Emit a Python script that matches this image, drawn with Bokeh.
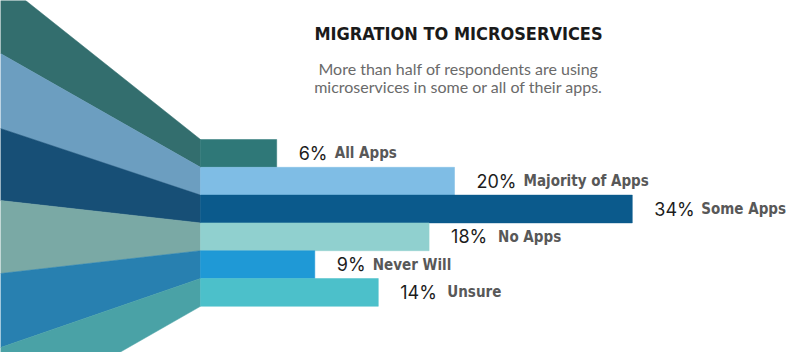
from bokeh.plotting import figure
from bokeh.models import Range1d, ColumnDataSource, Label
from bokeh.core.properties import value
from bokeh.embed import file_html
from bokeh.resources import INLINE

# ---- data ----
categories = ["All Apps", "Majority of Apps", "Some Apps", "No Apps", "Never Will", "Unsure"]
percents = [6, 20, 34, 18, 9, 14]
bar_colors = ["#2f7878", "#7fbde5", "#0b5a8c", "#90d0cf", "#1f99d6", "#4cc0ca"]
band_colors = ["#336e6e", "#6c9ec0", "#174f76", "#7aa9a5", "#2880b0", "#4aa2a6"]
title_text = "MIGRATION TO MICROSERVICES"
subtitle_lines = ["More than half of respondents are using",
                  "microservices in some or all of their apps."]

# ---- layout ----
W, H = 800, 352
PX = 12.7          # pixels per percent
ROW = 27.8         # pixels per bar row
BAR_LEFT = 200     # pixel x where bars start
BAR_TOP = 139      # pixel y of first bar's top
COND = "DejaVu Sans Condensed"

top_row = -0.5 - BAR_TOP / ROW
bottom_row = top_row + H / ROW

p = figure(width=W, height=H, output_backend="svg", toolbar_location=None,
           x_range=Range1d(-BAR_LEFT / PX, (W - BAR_LEFT) / PX),
           y_range=Range1d(bottom_row, top_row), min_border=0)
p.axis.visible = False
p.grid.visible = False
p.outline_line_color = None
p.background_fill_color = "white"
p.border_fill_color = "white"

rows = list(range(len(categories)))

# converging bands on the left (edge positions at the left border, in pixels)
left_edges_px = [-20, 53, 128, 200, 273, 347, 420]
x_left = -BAR_LEFT / PX
xs, ys = [], []
for i in rows:
    a = (left_edges_px[i] - BAR_TOP) / ROW - 0.5
    b = (left_edges_px[i + 1] - BAR_TOP) / ROW - 0.5
    xs.append([x_left, 0, 0, x_left])
    ys.append([a, i - 0.5, i + 0.5, b])
p.patches(xs, ys, fill_color=band_colors, line_color=band_colors, line_width=0.5)

src = ColumnDataSource(dict(
    y=rows, pct=percents, cat=categories, color=bar_colors,
    pct_txt=[f"{v}%" for v in percents],
    lab_off=[22 + (27 if v < 10 else 38) + 9 for v in percents],
))
p.hbar(y="y", left=0, right="pct", height=1.0, fill_color="color",
       line_color="color", line_width=0.5, source=src)

p.text(x="pct", y="y", text="pct_txt", x_offset=22, text_baseline="middle",
       text_align="left", text_font=value("Inter"), text_font_size="18px",
       text_color="#1c1c1c", source=src)
p.text(x="pct", y="y", text="cat", x_offset="lab_off", text_baseline="middle",
       text_align="left", text_font=value(COND),
       text_font_style="bold", text_font_size="15px", text_color="#585858", source=src)

p.add_layout(Label(x=458, y=H - 33, x_units="screen", y_units="screen",
                   text=title_text, text_align="center", text_baseline="alphabetic",
                   text_font=COND, text_font_style="bold", text_font_size="18px",
                   text_color="#1a1a1a"))
for k, line in enumerate(subtitle_lines):
    p.add_layout(Label(x=458, y=H - 68 - 17.5 * k, x_units="screen", y_units="screen",
                       text=line, text_align="center", text_baseline="alphabetic",
                       text_font="Lato", text_font_size="16px", text_color="#6a6a6a"))

open("out.html", "w").write(file_html(p, INLINE))
